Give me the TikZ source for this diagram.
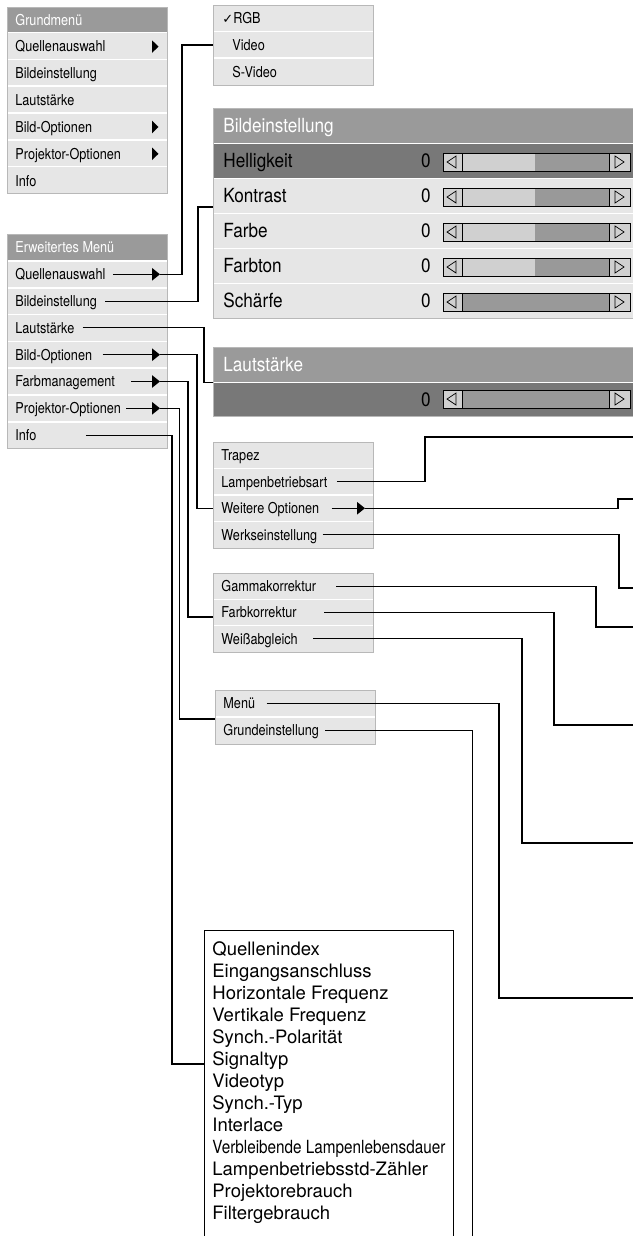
\documentclass[tikz,border=0pt]{standalone}
\usepackage{fontspec}
\setmainfont{TeX Gyre Heros}
\newfontfamily\condfont[FakeStretch=0.845]{TeX Gyre Heros}
\newfontfamily\bigfont[FakeStretch=0.88]{TeX Gyre Heros}
\newfontfamily\symfont{DejaVu Sans}
\usetikzlibrary{arrows.meta}

\definecolor{rowgray}{HTML}{E6E6E6}
\definecolor{headgray}{HTML}{9A9A9A}
\definecolor{selgray}{HTML}{787878}
\definecolor{framegray}{HTML}{B8B8B8}
\definecolor{barlight}{HTML}{D0D0D0}
\definecolor{bardark}{HTML}{999999}

% Schieberegler: #1 = y-Mitte, #2 = Ende des hellen Teils
\newcommand{\drawslider}[2]{%
  \fill[bardark] (462,{#1-9}) rectangle (609,{#1+9});
  \fill[barlight] (462,{#1-9}) rectangle (#2,{#1+9});
  \draw[fill=barlight] (443,{#1-9}) rectangle (462,{#1+9});
  \draw[fill=barlight] (609,{#1-9}) rectangle (630,{#1+9});
  \draw (443,{#1-9}) rectangle (630,{#1+9});
  \draw[line width=0.7pt] (456,{#1-6}) -- (447,{#1}) -- (456,{#1+6}) -- cycle;
  \draw[line width=0.7pt] (615,{#1-6}) -- (624,{#1}) -- (615,{#1+6}) -- cycle;
}

\begin{document}
\begin{tikzpicture}[x=1pt, y=-1pt, line width=0.8pt,
  menutext/.style={anchor=west, inner sep=0pt, text height=10.8pt, text depth=0pt,
    font=\condfont\fontsize{15}{18}\selectfont},
  headtext/.style={menutext, text=white},
  bigtext/.style={anchor=west, inner sep=0pt, text height=14pt, text depth=0pt,
    font=\bigfont\fontsize{19.5}{23}\selectfont},
  infotext/.style={anchor=west, inner sep=0pt, text height=13.2pt, text depth=0pt,
    font=\fontsize{18.5}{22}\selectfont},
  wire/.style={line width=1.1pt, black},
  wiretip/.style={wire, -{Triangle[length=8pt,width=12.5pt]}},
  sep/.style={white, line width=1.6pt},
  frame/.style={draw=framegray, line width=0.9pt},
]
\useasboundingbox (0,0) rectangle (632,1236);

% ---------- Grundmenue ----------
\fill[rowgray] (7,7) rectangle (167,193);
\fill[headgray] (7,7) rectangle (167,32.6);
\foreach \i in {0,...,5}
  \draw[sep] (7.5,{32.6+26.8*\i}) -- (166.5,{32.6+26.8*\i});
\draw[frame] (7,7) rectangle (167,193);
\node[headtext] (g0) at (15,19.8) {Grundmenü};
\foreach \t [count=\i] in {Quellenauswahl,Bildeinstellung,Lautstärke,Bild-Optionen,Projektor-Optionen,Info}
  \node[menutext] (g\i) at (15,{19.8+26.8*\i}) {\t};
\coordinate (gx) at (152,0);
\foreach \i in {1,4,5}
  \fill (g\i -| gx) ++(0,-6.3) -- ++(6.5,6.3) -- ++(-6.5,6.3) -- cycle;

% ---------- Erweitertes Menue ----------
\fill[rowgray] (7,234) rectangle (167,448.6);
\fill[headgray] (7,234) rectangle (167,261);
\foreach \i in {0,...,6}
  \draw[sep] (7.5,{261+26.8*\i}) -- (166.5,{261+26.8*\i});
\draw[frame] (7,234) rectangle (167,448.6);
\node[headtext] (e0) at (15,247.5) {Erweitertes Menü};
\foreach \t [count=\i] in {Quellenauswahl,Bildeinstellung,Lautstärke,Bild-Optionen,Farbmanagement,Projektor-Optionen,Info}
  \node[menutext] (e\i) at (15,{247.5+26.8*\i}) {\t};

% ---------- Quellenauswahl ----------
\fill[rowgray] (213,5) rectangle (373,85);
\foreach \y in {31.7,58.3}
  \draw[sep] (213.5,\y) -- (372.5,\y);
\draw[frame] (213,5) rectangle (373,85);
\node[menutext] (q1) at (222,18.3) {{\symfont\fontsize{13}{14}\selectfont ✓}RGB};
\node[menutext] (q2) at (232,45) {Video};
\node[menutext] (q3) at (232,71.7) {S-Video};

% ---------- Bildeinstellung ----------
\fill[rowgray] (213,108) rectangle (645,318);
\fill[headgray] (213,108) rectangle (645,143.5);
\fill[selgray] (213,143.5) rectangle (645,178.5);
\foreach \i in {0,...,4}
  \draw[sep] (213.5,{143.5+35*\i}) -- (645,{143.5+35*\i});
\draw[frame] (213,108) rectangle (645,318);
\node[bigtext, text=white] (b0) at (223,125.5) {Bildeinstellung};
\foreach \t [count=\i] in {Helligkeit,Kontrast,Farbe,Farbton,Schärfe} {
  \node[bigtext] (b\i) at (223,{125.5+35*\i}) {\t};
  \node[bigtext, anchor=east] (v\i) at (431,{125.5+35*\i}) {0};
}
\foreach \i/\s in {1/535,2/535,3/535,4/535,5/462} {
  \drawslider{127+35*\i}{\s}
}

% ---------- Lautstaerke ----------
\fill[headgray] (213,347) rectangle (645,382.5);
\fill[selgray] (213,382.5) rectangle (645,416);
\draw[sep] (213.5,382.5) -- (645,382.5);
\draw[frame] (213,347) rectangle (645,416);
\node[bigtext, text=white] (l0) at (223,364.5) {Lautstärke};
\node[bigtext, anchor=east] (l1) at (431,399) {0};
\drawslider{399}{462}

% ---------- Bild-Optionen ----------
\fill[rowgray] (213,442) rectangle (373,548);
\foreach \i in {1,2,3}
  \draw[sep] (213.5,{442+26.5*\i}) -- (372.5,{442+26.5*\i});
\draw[frame] (213,442) rectangle (373,548);
\foreach \t [count=\i] in {Trapez,Lampenbetriebsart,Weitere Optionen,Werkseinstellung}
  \node[menutext] (t\i) at (221,{428.75+26.5*\i}) {\t};

% ---------- Farbmanagement ----------
\fill[rowgray] (213,573) rectangle (373,652);
\foreach \i in {1,2}
  \draw[sep] (213.5,{573+26.33*\i}) -- (372.5,{573+26.33*\i});
\draw[frame] (213,573) rectangle (373,652);
\foreach \t [count=\i] in {Gammakorrektur,Farbkorrektur,Weißabgleich}
  \node[menutext] (k\i) at (221,{559.8+26.33*\i}) {\t};

% ---------- Projektor-Optionen ----------
\fill[rowgray] (215,690) rectangle (375,744);
\draw[sep] (215.5,717) -- (374.5,717);
\draw[frame] (215,690) rectangle (375,744);
\node[menutext] (m1) at (223,703.5) {Menü};
\node[menutext] (m2) at (223,730.5) {Grundeinstellung};

% ---------- Info ----------
\draw[line width=1pt] (204,930) rectangle (453,1250);
\foreach \t [count=\i from 0] in {Quellenindex,Eingangsanschluss,Horizontale Frequenz,
    Vertikale Frequenz,Synch.-Polarität,Signaltyp,Videotyp,Synch.-Typ,Interlace,
    {\condfont\fontsize{18.1}{20}\selectfont Verbleibende Lampenlebensdauer},
    Lampenbetriebsstd-Zähler,Projektorebrauch,Filtergebrauch}
  \node[infotext] (i\i) at (212,{949+22*\i}) {\t};

% ---------- Verbindungen ----------
\coordinate (ax) at (160,0);
\coordinate (tx) at (365,0);
\coordinate (rgbin) at (213,45);
\coordinate (bildin) at (213,207);
\coordinate (lautin) at (213,382.5);
\coordinate (trapin) at (213,508.25);
\coordinate (gammain) at (213,617);
\coordinate (menuin) at (215,719);
\coordinate (infoin) at (204,1064);

\draw[wiretip] ([xshift=7pt]e1.east) -- (e1 -| ax);
\draw[wire] (e1 -| ax) -| (182,45) -- (rgbin);
\draw[wire] ([xshift=8pt]e2.east) -| (198,207) -- (bildin);
\draw[wire] ([xshift=8pt]e3.east) -| (204,382.5) -- (lautin);
\draw[wiretip] ([xshift=10pt]e4.east) -- (e4 -| ax);
\draw[wire] (e4 -| ax) -| (197,508.25) -- (trapin);
\draw[wiretip] ([xshift=16pt]e5.east) -- (e5 -| ax);
\draw[wire] (e5 -| ax) -| (188,617) -- (gammain);
\draw[wiretip] ([xshift=5pt]e6.east) -- (e6 -| ax);
\draw[wire] (e6 -| ax) -| (179.5,719) -- (menuin);
\draw[wire] ([xshift=49pt]e7.east) -| (172,1064) -- (infoin);

% freie Enden am rechten Rand
\coordinate (o1) at (640,437);
\coordinate (o2) at (640,499);
\coordinate (o3) at (640,588);
\coordinate (o4) at (640,627);
\coordinate (o5) at (640,725);
\coordinate (o6) at (640,843);
\coordinate (o7) at (640,998);
\coordinate (o8) at (472.5,1245);

\draw[wire] ([xshift=9pt]t2.east) -| (425,437) -- (o1);
\draw[wiretip] ([xshift=12pt]t3.east) -- (t3 -| tx);
\draw[wire] (t3 -| tx) -| (618,499) -- (o2);
\draw[wire] ([xshift=5pt]t4.east) -| (619,588) -- (o3);
\draw[wire] ([xshift=20pt]k1.east) -| (596,627) -- (o4);
\draw[wire] ([xshift=27pt]k2.east) -| (554,725) -- (o5);
\draw[wire] ([xshift=15pt]k3.east) -| (522,843) -- (o6);
\draw[wire] ([xshift=11pt]m1.east) -| (499,998) -- (o7);
\draw[wire] ([xshift=6pt]m2.east) -| (o8);

\end{tikzpicture}
\end{document}
